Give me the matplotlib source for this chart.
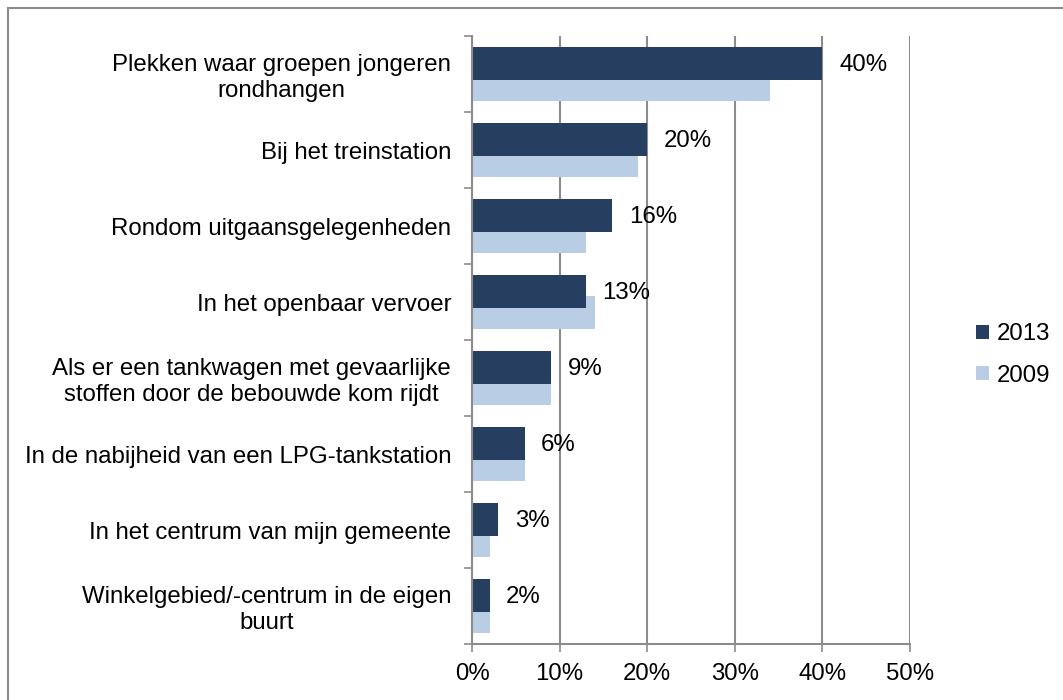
#!/usr/bin/env python3

import numpy as np
import matplotlib
matplotlib.use('Agg')
import matplotlib.pyplot as plt
from matplotlib.patches import Rectangle

#------------------------------------------------------------
# data
#------------------------------------------------------------
categories = [
    "Plekken waar groepen jongeren\nrondhangen",
    "Bij het treinstation",
    "Rondom uitgaansgelegenheden",
    "In het openbaar vervoer",
    "Als er een tankwagen met gevaarlijke\nstoffen door de bebouwde kom rijdt",
    "In de nabijheid van een LPG-tankstation",
    "In het centrum van mijn gemeente",
    "Winkelgebied/-centrum in de eigen\nbuurt",
]
values_2013 = [40, 20, 16, 13, 9, 6, 3, 2]
values_2009 = [34, 19, 13, 14, 9, 6, 2, 2]
series_names = ["2013", "2009"]
x_ticks = [0, 10, 20, 30, 40, 50]

#------------------------------------------------------------
# plot
#------------------------------------------------------------
plt.rcParams['font.family'] = ['Liberation Sans', 'DejaVu Sans']
fs = 17.3
dark_color = '#263F60'
light_color = '#B9CDE5'
grid_color = '#8C8C8C'

W, H = 1063, 700
fig = plt.figure(figsize=(W / 100, H / 100), dpi=100)
ax = fig.add_axes([472 / W, 1 - 644 / H, (910 - 472) / W, (644 - 36) / H])

y = np.arange(len(categories))
bar_h = 0.43
light_bars = ax.barh(y + 0.14, values_2009, height=bar_h, color=light_color, zorder=2, label=series_names[1])
dark_bars = ax.barh(y - 0.14, values_2013, height=bar_h, color=dark_color, zorder=3, label=series_names[0])

for yi, v in zip(y, values_2013):
    ax.annotate("%d%%" % v, xy=(v, yi - 0.12), xytext=(12, 0), textcoords='offset points',
                ha='left', va='center', fontsize=fs, zorder=4)

ax.set_xlim(0, 50)
ax.set_ylim(len(categories) - 0.5, -0.5)

ax.set_xticks(x_ticks)
ax.set_xticklabels(["%d%%" % t for t in x_ticks], fontsize=fs)
ax.tick_params(axis='x', length=6, width=1.2, color=grid_color, pad=8)

ax.set_yticks(y)
ax.set_yticklabels(categories, fontsize=fs, multialignment='center')
ax.tick_params(axis='y', which='major', length=0, pad=15)
ax.set_yticks(np.arange(len(categories) + 1) - 0.5, minor=True)
ax.tick_params(axis='y', which='minor', length=6, width=1.2, color=grid_color)

ax.xaxis.grid(True, color=grid_color, linewidth=1.5, zorder=0)
ax.set_axisbelow(True)
for side in ['top', 'right']:
    ax.spines[side].set_visible(False)
for side in ['left', 'bottom']:
    ax.spines[side].set_color(grid_color)
    ax.spines[side].set_linewidth(1.5)
    ax.spines[side].set_zorder(5)

leg = fig.legend(handles=[dark_bars, light_bars], labels=series_names,
                 loc='center left', bbox_to_anchor=(976 / W, 1 - 355 / H),
                 frameon=False, fontsize=fs, handlelength=0.55, handleheight=0.55,
                 handletextpad=0.3, labelspacing=0.8, borderpad=0, borderaxespad=0)

# outer chart border (clipped by the image edges)
fig.patches.append(Rectangle((8 / W, -0.1), 1.2, 1 - 8 / H + 0.1, transform=fig.transFigure,
                             fill=False, edgecolor='#8C8C8C', linewidth=1.5))

fig.savefig("out.png", dpi=100)
